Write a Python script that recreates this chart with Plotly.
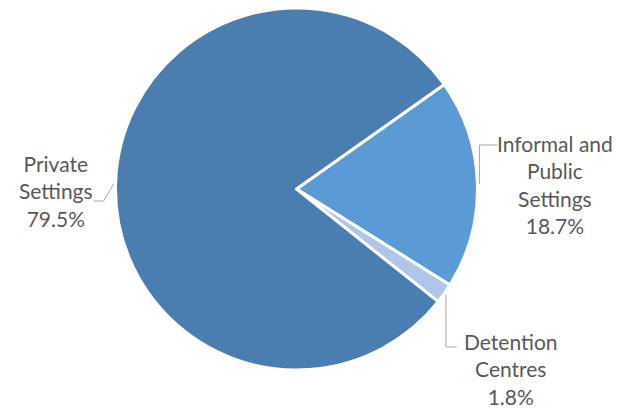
import math
import plotly.graph_objects as go

# Share of incidents by setting (%)
labels = ["Informal and Public Settings", "Detention Centres", "Private Settings"]
label_lines = ["Informal and<br>Public<br>Settings", "Detention<br>Centres", "Private<br>Settings"]
values = [18.7, 1.8, 79.5]
colors = ["#5b9bd5", "#b0c6e8", "#4a7eb1"]

W, H = 620, 408
CX, CY, R = 296.5, 189, 181      # pie centre and radius in pixels
ROTATION = 54.7                  # start angle of first slice, clockwise from 12 o'clock

# Where each label sits and how its leader line bends (pixels)
label_style = [
    dict(text_xy=(555, 185), elbow="up", bend_y=145, end_dx=18),
    dict(text_xy=(511, 369), elbow="down", bend_y=347, end_dx=11),
    dict(text_xy=(56, 191), elbow="left", bend_y=201, end_dx=-10),
]

dom_x = [(CX - R) / W, (CX + R) / W]
dom_y = [1 - (CY + R) / H, 1 - (CY - R) / H]

fig = go.Figure(go.Pie(
    labels=labels,
    values=values,
    sort=False,
    direction="clockwise",
    rotation=ROTATION,
    marker=dict(colors=colors, line=dict(color="white", width=3)),
    textinfo="none",
    hoverinfo="label+percent",
    domain=dict(x=dom_x, y=dom_y),
    showlegend=False,
))


def px(x, y):
    return x / W, 1 - y / H


total = sum(values)
angle = ROTATION
shapes, annotations = [], []
for name, lines, v, st in zip(labels, label_lines, values, label_style):
    span = 360 * v / total
    mid = math.radians(angle + span / 2)
    angle += span
    ex = CX + (R + 2) * math.sin(mid)
    ey = CY - (R + 2) * math.cos(mid)
    if st["elbow"] == "left":
        pts = [(ex, ey), (ex - 10, st["bend_y"]), (ex - 10 + st["end_dx"], st["bend_y"])]
    else:
        pts = [(ex, ey), (ex, st["bend_y"]), (ex + st["end_dx"], st["bend_y"])]
    for (x0, y0), (x1, y1) in zip(pts[:-1], pts[1:]):
        a0, b0 = px(x0, y0)
        a1, b1 = px(x1, y1)
        shapes.append(dict(type="line", xref="paper", yref="paper",
                           x0=a0, y0=b0, x1=a1, y1=b1,
                           line=dict(color="#a6a6a6", width=1)))
    tx, ty = px(*st["text_xy"])
    annotations.append(dict(
        text=f"{lines}<br>{v}%", x=tx, y=ty, xref="paper", yref="paper",
        showarrow=False, align="center", xanchor="center", yanchor="middle",
        font=dict(family="Lato, Open Sans, sans-serif", size=21, color="#595959"),
    ))

fig.update_layout(
    width=W, height=H,
    margin=dict(l=0, r=0, t=0, b=0),
    paper_bgcolor="white",
    plot_bgcolor="white",
    shapes=shapes,
    annotations=annotations,
)

fig.write_html("out.html")
